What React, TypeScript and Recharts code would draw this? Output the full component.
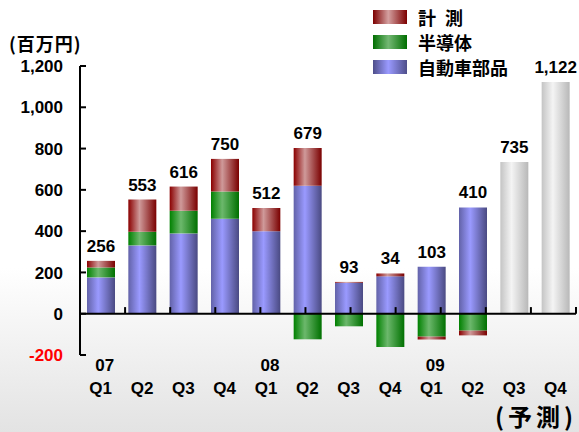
import React from 'react'
import { BarChart, Bar, XAxis, YAxis, ReferenceLine, LabelList } from 'recharts'

const quarters = ['Q1', 'Q2', 'Q3', 'Q4', 'Q1', 'Q2', 'Q3', 'Q4', 'Q1', 'Q2', 'Q3', 'Q4']
const years = ['07', '', '', '', '08', '', '', '', '09', '', '', '']
const autoParts = [176, 331, 389, 460, 400, 620, 150, 181, 228, 515, 0, 0]
const semiconductor = [48, 66, 110, 132, 0, -124, -61, -161, -111, -82, 0, 0]
const measurement = [32, 156, 117, 158, 112, 183, 4, 14, -14, -23, 0, 0]
const forecast = [0, 0, 0, 0, 0, 0, 0, 0, 0, 0, 735, 1122]
const totals = [256, 553, 616, 750, 512, 679, 93, 34, 103, 410, 735, 1122]
const yTicks = [-200, 0, 200, 400, 600, 800, 1000, 1200]
const boundaries = [1, 2, 3, 4, 5, 6, 7, 8, 9, 10, 11, 12]

const legendItems = [
  { name: '計\u2002測', edge: '#7c0000', light: '#d4a0a0' },
  { name: '半導体', edge: '#006e00', light: '#74b874' },
  { name: '自動車部品', edge: '#4e4e8a', light: '#9a9aff' },
]

const data = quarters.map((q, i) => ({
  key: String(i),
  quarter: q,
  year: years[i],
  autoParts: autoParts[i],
  semiconductor: semiconductor[i],
  measurement: measurement[i],
  forecast: forecast[i],
  anchor: 0,
  total: totals[i],
}))

const font = '"Liberation Sans", Arial, sans-serif'
const jpFont = '"Noto Sans CJK JP", sans-serif'

function XTick(props: any) {
  const { x, y, payload } = props
  const d = data[Number(payload.value)]
  if (!d) return null
  return (
    <g>
      {d.year && (
        <text x={x + 4} y={y + 16} textAnchor="middle" fontFamily={font} fontWeight="bold" fontSize={17} fill="#000">
          {d.year}
        </text>
      )}
      <text x={x} y={y + 39} textAnchor="middle" fontFamily={font} fontWeight="bold" fontSize={17} fill="#000">
        {d.quarter}
      </text>
    </g>
  )
}

function YTick(props: any) {
  const { x, y, payload } = props
  const v = payload.value as number
  return (
    <g>
      <line x1={x + 17} x2={x + 23} y1={y} y2={y} stroke="#000" strokeWidth={2} />
      <text x={x} y={y} dy="0.36em" textAnchor="end" fontFamily={font} fontWeight="bold" fontSize={17} fill={v < 0 ? '#ff0000' : '#000'}>
        {v.toLocaleString('en-US')}
      </text>
    </g>
  )
}

function TotalLabel(props: any) {
  const { x, y, width, index } = props
  const v = totals[index]
  if (v === undefined) return null
  return (
    <text x={x + width / 2} y={y - 8} textAnchor="middle" fontFamily={font} fontWeight="bold" fontSize={17} fill="#000">
      {v.toLocaleString('en-US')}
    </text>
  )
}

function grad(id: string, edge: string, light: string, edgeLeft?: string) {
  return (
    <linearGradient id={id} x1="0" y1="0" x2="1" y2="0">
      <stop offset="0%" stopColor={edgeLeft || edge} />
      <stop offset="40%" stopColor={light} />
      <stop offset="100%" stopColor={edge} />
    </linearGradient>
  )
}

export default function App() {
  return (
    <div
      style={{
        position: 'absolute',
        left: 0,
        top: 0,
        width: 579,
        height: 432,
        overflow: 'hidden',
        background: 'linear-gradient(to bottom, #ffffff 0%, #ffffff 62%, #e3e3e3 100%)',
      }}
    >
      <div style={{ position: 'absolute', left: 9, top: 31, fontFamily: jpFont, fontWeight: 'bold', fontSize: 18, lineHeight: '24px', letterSpacing: 1 }}>
        (百万円)
      </div>

      {legendItems.map((it, i) => (
        <div key={it.name} style={{ position: 'absolute', left: 373, top: 9 + i * 25, height: 16, display: 'flex', alignItems: 'center' }}>
          <div
            style={{
              width: 34,
              height: 14,
              background: `linear-gradient(to right, ${it.edge} 0%, ${it.light} 45%, ${it.edge} 100%)`,
            }}
          />
          <span style={{ marginLeft: 11, fontFamily: jpFont, fontWeight: 'bold', fontSize: 18, lineHeight: '16px', whiteSpace: 'pre' }}>
            {it.name}
          </span>
        </div>
      ))}

      <div style={{ position: 'absolute', left: 495, top: 401, fontFamily: jpFont, fontWeight: 'bold', fontSize: 24, lineHeight: '30px', letterSpacing: 4 }}>
        (予測)
      </div>

      <div style={{ position: 'absolute', left: 0, top: 0 }}>
        <BarChart
          width={579}
          height={432}
          data={data}
          stackOffset="sign"
          barSize={28}
          margin={{ top: 66, right: 3, left: 20, bottom: 37 }}
        >
          <defs>
            {grad('gBlue', '#4a4a82', '#9a9aff', '#6262a8')}
            {grad('gGreen', '#007000', '#6cb86c', '#008000')}
            {grad('gRed', '#7a0000', '#cf9a9a', '#8a0000')}
            {grad('gGray', '#b8b8b8', '#f4f4f4', '#c4c4c4')}
          </defs>
          <XAxis dataKey="key" height={40} axisLine={false} tickLine={false} tickSize={0} tickMargin={0} tick={<XTick />} interval={0} />
          <XAxis xAxisId="n" type="number" domain={[0, 12]} hide />
          <YAxis
            width={60}
            domain={[-200, 1200]}
            ticks={yTicks}
            interval={0}
            axisLine={{ stroke: '#000', strokeWidth: 2 }}
            tickLine={false}
            tickSize={0}
            tickMargin={17}
            tick={<YTick />}
          />
          <Bar dataKey="autoParts" stackId="a" fill="url(#gBlue)" isAnimationActive={false} />
          <Bar dataKey="semiconductor" stackId="a" fill="url(#gGreen)" isAnimationActive={false} />
          <Bar dataKey="measurement" stackId="a" fill="url(#gRed)" isAnimationActive={false} />
          <Bar dataKey="forecast" stackId="a" fill="url(#gGray)" isAnimationActive={false} />
          <Bar dataKey="anchor" stackId="a" fill="none" minPointSize={1} isAnimationActive={false}>
            <LabelList dataKey="total" content={<TotalLabel />} />
          </Bar>
          <ReferenceLine y={0} stroke="#000" strokeWidth={2} />
          {boundaries.map((b) => (
            <ReferenceLine
              key={b}
              xAxisId="n"
              segment={[
                { x: b, y: 0 },
                { x: b, y: 32 },
              ]}
              stroke="#000"
              strokeWidth={2}
            />
          ))}
        </BarChart>
      </div>
    </div>
  )
}
